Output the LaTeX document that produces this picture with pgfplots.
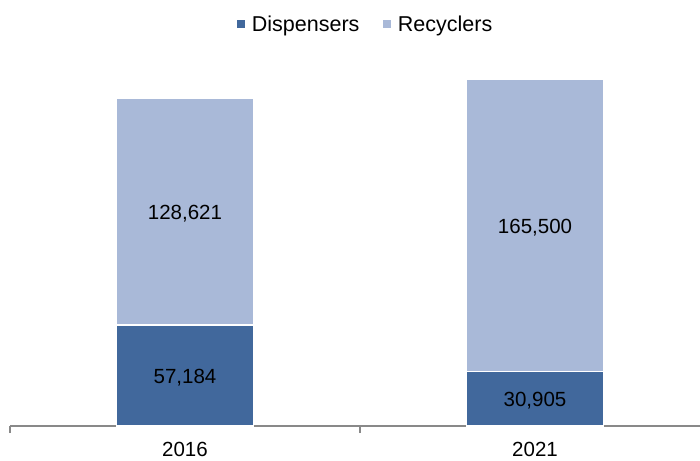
\documentclass[border=0pt]{standalone}
\usepackage{pgfplots}
\pgfplotsset{compat=1.18}
\usepackage{fontspec}
\setmainfont{Liberation Sans}
\definecolor{disp}{HTML}{41689C}
\definecolor{recy}{HTML}{A9B9D8}
\definecolor{axgray}{HTML}{898989}
\begin{document}
\begin{tikzpicture}
\begin{axis}[
  at={(10pt,34pt)}, anchor=south west,
  scale only axis, width=690pt, height=353pt,
  ybar stacked, bar width=137pt,
  xmin=-0.5, xmax=1.4714, ymin=0, ymax=200000,
  axis y line=none, axis x line*=bottom,
  axis line style={axgray, line width=1.3pt},
  xtick={0,1}, xticklabels={2016,2021},
  major tick length=0pt,
  minor xtick={-0.5,0.5}, minor tick length=7pt, tick align=outside,
  minor tick style={axgray, line width=1.3pt},
  xticklabel style={font=\fontsize{20.5}{24}\selectfont, yshift=-13pt},
  clip=false,
  every axis plot/.append style={draw=white, line width=1.5pt},
  legend columns=2,
  legend style={at={(0.515,1.138)}, anchor=center, draw=none, fill=none,
    font=\fontsize{21.5}{25}\selectfont,
    /tikz/every even column/.append style={column sep=21pt}},
  legend image code/.code={\path (0pt,0pt) -- (12pt,0pt);\fill[#1,draw=none] (0pt,-4pt) rectangle (8pt,4pt);},
]
\addplot[fill=disp] coordinates {(0,57184) (1,30905)};
\addplot[fill=recy] coordinates {(0,128621) (1,165500)};
\legend{Dispensers,Recyclers}
\coordinate (a) at (axis cs:0,28592);
\coordinate (b) at (axis cs:0,121494);
\coordinate (c) at (axis cs:1,15452);
\coordinate (d) at (axis cs:1,113655);
\end{axis}
\begin{scope}[every node/.style={font=\fontsize{20.5}{24}\selectfont, text=black, yshift=-2pt}]
\node at (a) {57,184};
\node at (b) {128,621};
\node at (c) {30,905};
\node at (d) {165,500};
\end{scope}
\pgfresetboundingbox
\path[use as bounding box] (0pt,0pt) rectangle (700pt,460pt);
\end{tikzpicture}
\end{document}
